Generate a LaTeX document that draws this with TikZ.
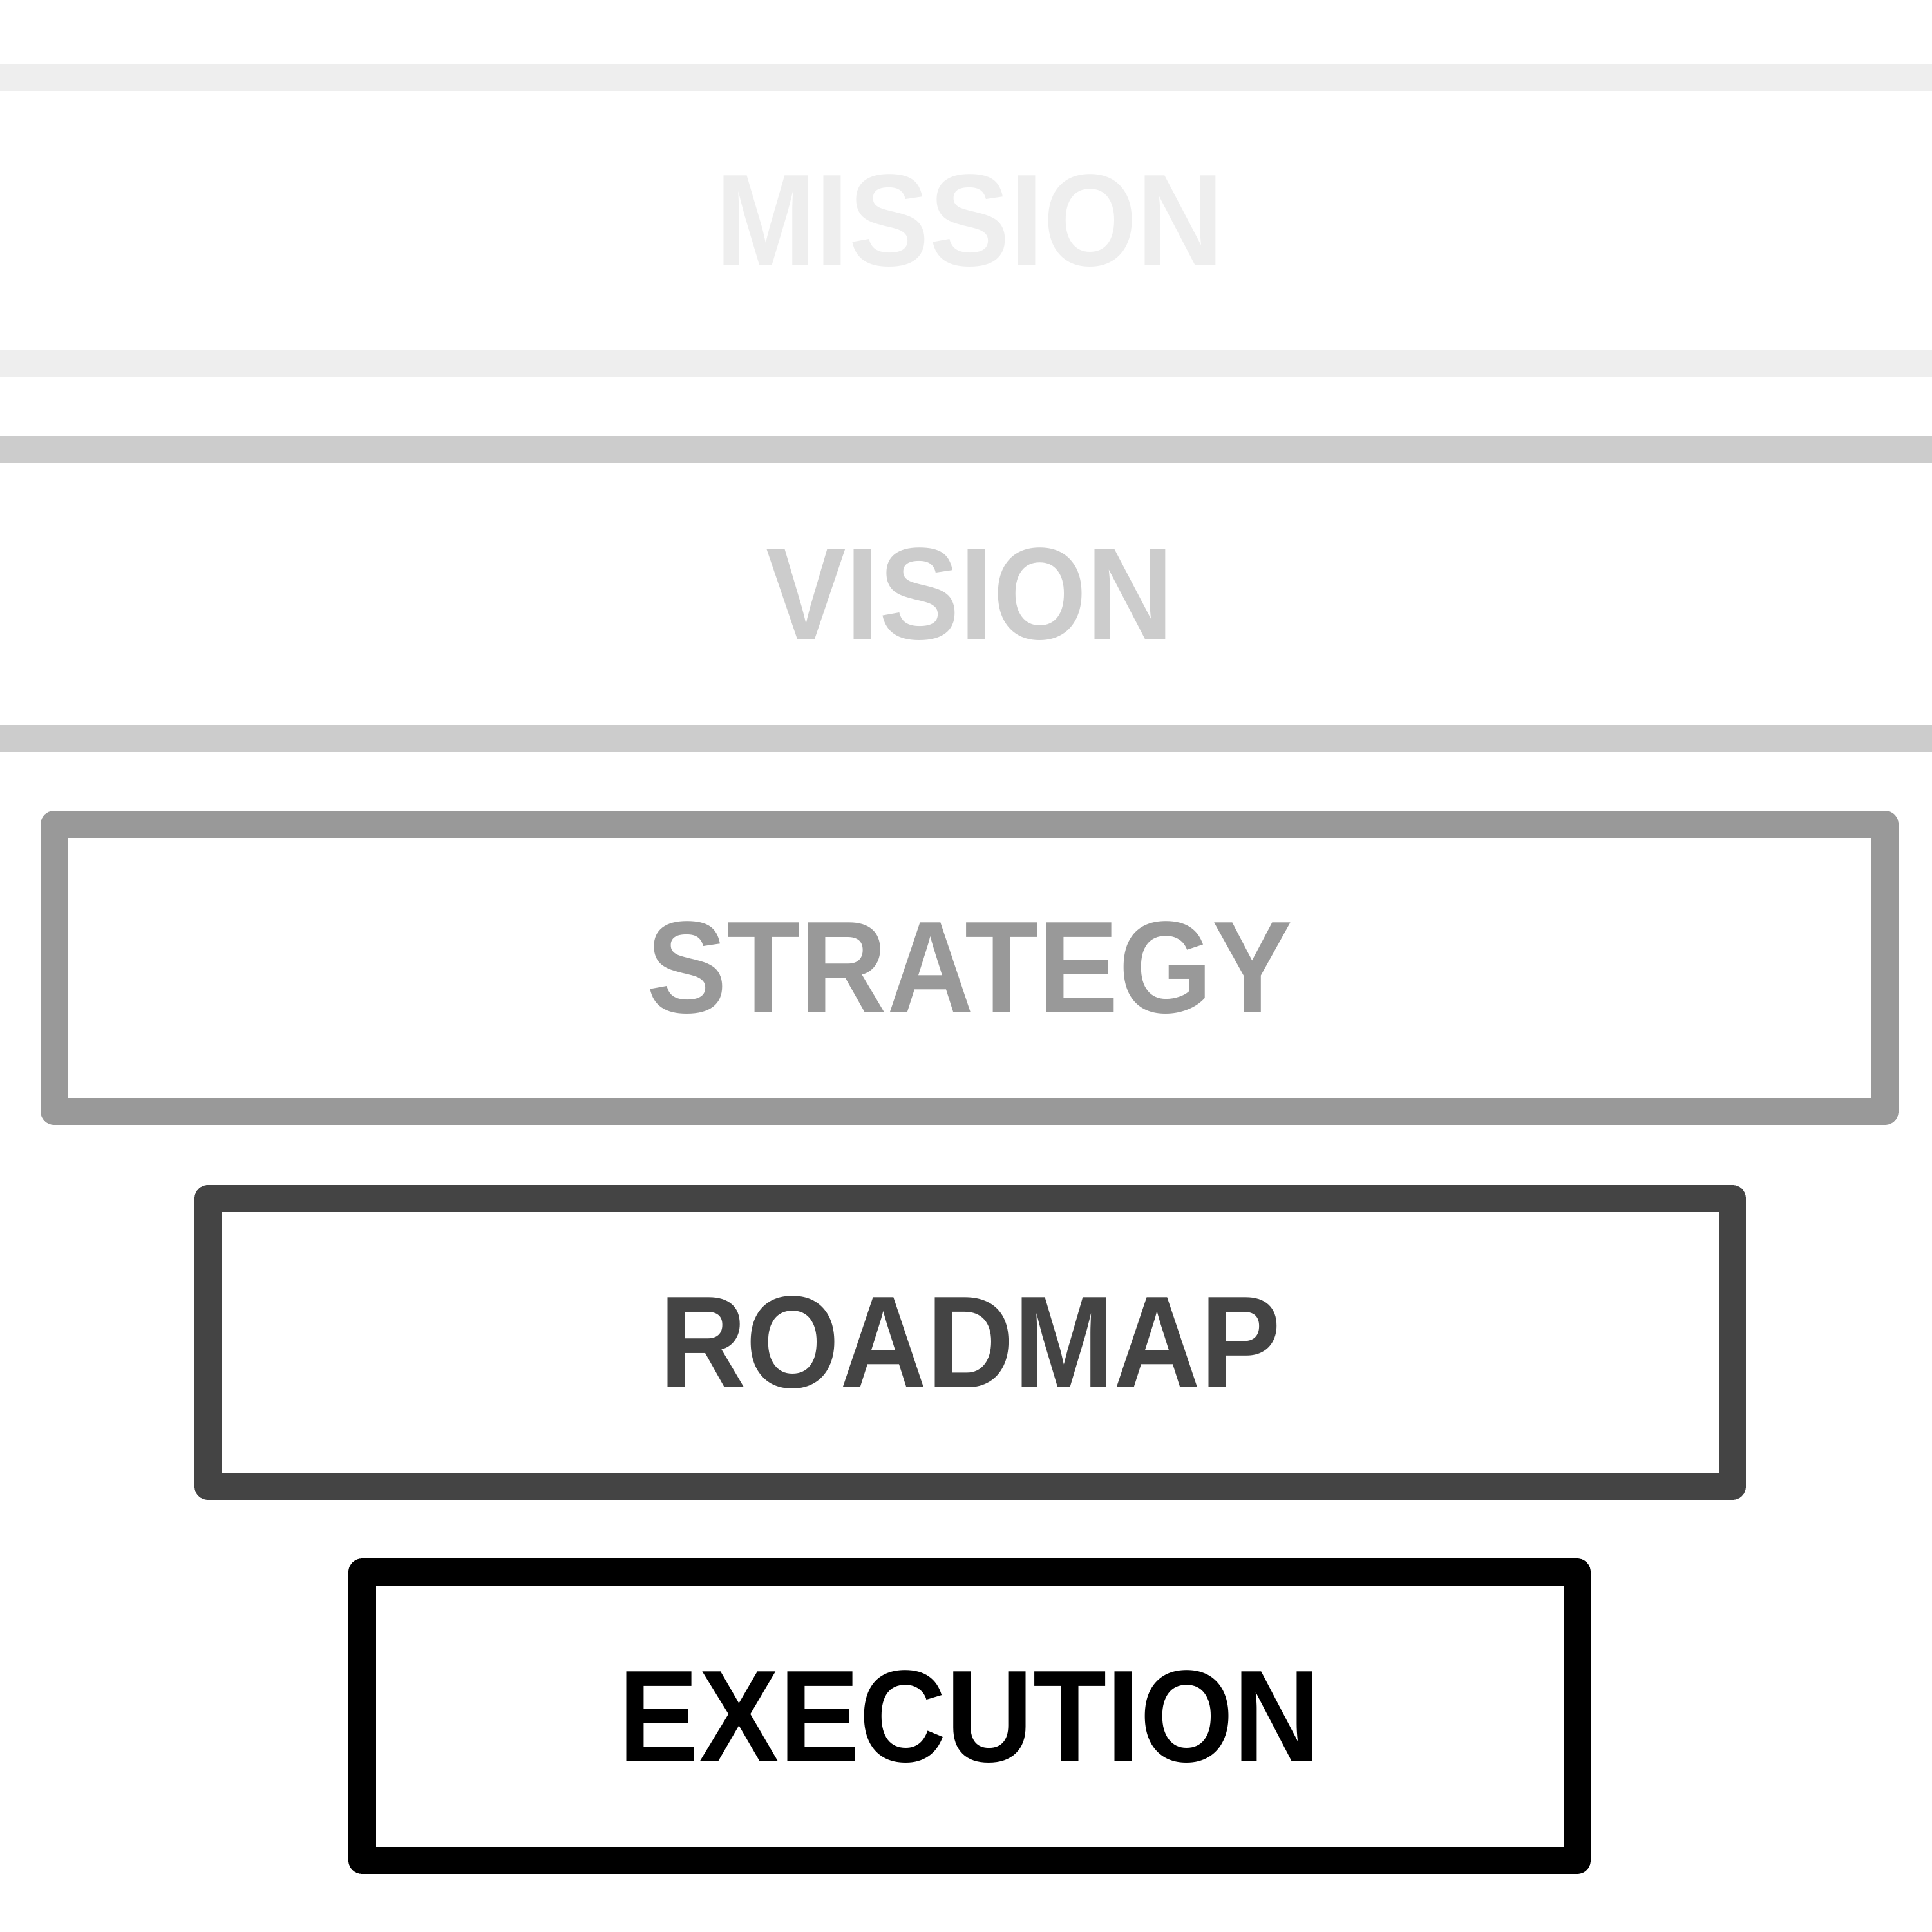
\documentclass[tikz,border=0pt]{standalone}
\usepackage{fontspec}
\setmainfont{Liberation Sans}[FakeStretch=0.92]
\usepackage{tikz}
\usetikzlibrary{positioning}
\definecolor{missiongray}{HTML}{EEEEEE}
\definecolor{visiongray}{HTML}{CCCCCC}
\definecolor{strategygray}{HTML}{999999}
\definecolor{roadmapgray}{HTML}{444444}
\tikzset{
    layer/.style={minimum width=15.74cm, inner sep=0pt, outer sep=0pt, font=\fontsize{30.2}{32}\selectfont\bfseries},
    stage/.style={draw, line width=0.22cm, line join=round, inner sep=0pt, outer sep=0pt, minimum height=2.34cm, font=\fontsize{30.2}{32}\selectfont\bfseries},
}

\begin{document}
\begin{tikzpicture}
\useasboundingbox (0,0) rectangle (15.68,15.68);

\node [layer, minimum height=2.32cm, text=missiongray] (mission) at (7.87,13.89) {MISSION};
\draw [line width=0.22cm, color=missiongray] (mission.north west) -- (mission.north east);
\draw [line width=0.22cm, color=missiongray] (mission.south west) -- (mission.south east);

\node [layer, minimum height=2.34cm, text=visiongray] (vision) at (7.87,10.86) {VISION};
\draw [line width=0.22cm, color=visiongray] (vision.north west) -- (vision.north east);
\draw [line width=0.22cm, color=visiongray] (vision.south west) -- (vision.south east);

\node [stage, minimum width=14.86cm, minimum height=2.33cm, color=strategygray] (strategy) at (7.87,7.825) {STRATEGY};
\node [stage, minimum width=12.37cm, color=roadmapgray] (roadmap) at (7.875,4.785) {ROADMAP};
\node [stage, minimum width=9.86cm, color=black] (execution) at (7.87,1.75) {EXECUTION};

\end{tikzpicture}
\end{document}
